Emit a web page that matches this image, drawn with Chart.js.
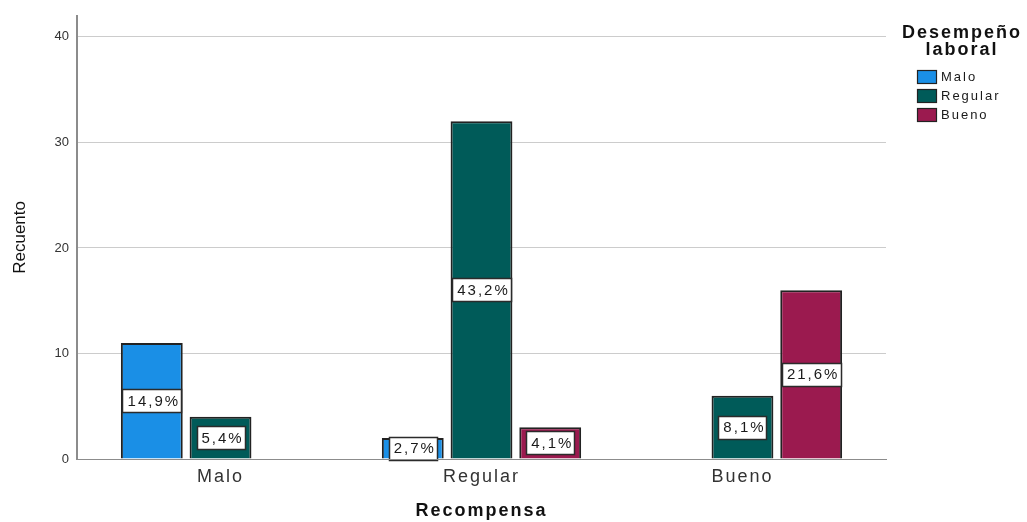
<!DOCTYPE html>
<html lang="es">
<head>
  <meta charset="UTF-8">
  <title>Recompensa y desempeño laboral</title>
  <script src="https://cdn.jsdelivr.net/npm/chart.js"></script>
  <style>
    html, body { margin: 0; padding: 0; background: #fff; }
    #wrap { width: 1027px; height: 522px; }
  </style>
</head>
<body>
  <div id="wrap"><canvas id="grafico" width="1027" height="522"></canvas></div>

  <script>
    // Datos: recuento por grupo de recompensa
    const categorias = ['Malo', 'Regular', 'Bueno'];
    const series = ['Malo', 'Regular', 'Bueno'];
    const recuentoMalo = [11, 2, null];
    const recuentoRegular = [4, 32, 6];
    const recuentoBueno = [null, 3, 16];
    const porcentajeMalo = ['14,9%', '2,7%', ''];
    const porcentajeRegular = ['5,4%', '43,2%', '8,1%'];
    const porcentajeBueno = ['', '4,1%', '21,6%'];
    const ticksY = [0, 10, 20, 30, 40];

    const colores = ['#1a8fe6', '#005b59', '#9b1a4f'];
    const fuente = "'Liberation Sans', Arial, sans-serif";
    const espaciado = '2px';

    const valores = [recuentoMalo, recuentoRegular, recuentoBueno];
    const etiquetas = [porcentajeMalo, porcentajeRegular, porcentajeBueno];

    // El eje Y se dibuja sin espaciado entre letras
    const sinEspaciado = {
      id: 'sinEspaciado',
      beforeDraw(chart) { chart.ctx.letterSpacing = '0px'; }
    };

    // Etiquetas de porcentaje en el centro de cada barra
    const etiquetasBarras = {
      id: 'etiquetasBarras',
      afterDatasetsDraw(chart) {
        const ctx = chart.ctx;
        ctx.letterSpacing = espaciado;
        ctx.save();
        ctx.font = '15px ' + fuente;
        ctx.textAlign = 'center';
        ctx.textBaseline = 'middle';
        chart.data.datasets.forEach((ds, i) => {
          chart.getDatasetMeta(i).data.forEach((bar, j) => {
            const txt = etiquetas[i][j];
            if (!txt || ds.data[j].y == null) return;
            const cy = (bar.y + bar.base) / 2;
            const w = Math.round(ctx.measureText(txt).width + 6);
            const h = 23;
            const x0 = Math.round(bar.x - w / 2);
            const y0 = Math.round(cy - h / 2);
            ctx.fillStyle = '#fff';
            ctx.fillRect(x0, y0, w, h);
            ctx.strokeStyle = '#2b2b2b';
            ctx.lineWidth = 1.5;
            ctx.strokeRect(x0 + 0.5, y0 + 0.5, w, h);
            ctx.fillStyle = '#1a1a1a';
            ctx.fillText(txt, bar.x + 2, cy + 1);
          });
        });
        ctx.restore();
      }
    };

    // Leyenda a la derecha con título en dos líneas
    const leyenda = {
      id: 'leyenda',
      afterDraw(chart) {
        const ctx = chart.ctx;
        ctx.save();
        ctx.letterSpacing = espaciado;
        ctx.fillStyle = '#111';
        ctx.font = 'bold 18px ' + fuente;
        ctx.textAlign = 'center';
        ctx.textBaseline = 'middle';
        ctx.fillText('Desempeño', 962, 33);
        ctx.fillText('laboral', 962, 50);
        ctx.font = '13px ' + fuente;
        ctx.textAlign = 'left';
        chart.data.datasets.forEach((ds, i) => {
          const y = 77 + i * 19;
          ctx.fillStyle = ds.backgroundColor;
          ctx.fillRect(917, y - 7, 20, 14);
          ctx.strokeStyle = '#222';
          ctx.lineWidth = 1.2;
          ctx.strokeRect(917.5, y - 6.5, 19, 13);
          ctx.fillStyle = '#1a1a1a';
          ctx.fillText(ds.label, 941, y);
        });
        ctx.restore();
      }
    };

    const ctx = document.getElementById('grafico').getContext('2d');
    new Chart(ctx, {
      type: 'bar',
      data: {
        datasets: series.map((nombre, i) => ({
          label: nombre,
          data: valores[i].map((v, j) => ({ x: j, y: v })),
          backgroundColor: colores[i],
          borderColor: '#222',
          borderWidth: 2,
          categoryPercentage: 0.79,
          barPercentage: 0.9
        }))
      },
      options: {
        responsive: false,
        animation: false,
        layout: { padding: { top: 15, right: 141, left: 0, bottom: 0 } },
        plugins: {
          legend: { display: false },
          tooltip: { enabled: false }
        },
        scales: {
          x: {
            type: 'linear',
            offset: false,
            min: -0.55,
            max: 2.55,
            afterBuildTicks: s => { s.ticks = categorias.map((c, i) => ({ value: i })); },
            afterFit: s => { s.height = 63; },
            grid: { display: false, drawTicks: false, z: 1 },
            border: { display: true, color: '#8c8c8c', width: 1, z: 1 },
            ticks: {
              callback: v => categorias[v],
              font: { family: fuente, size: 18 },
              color: '#333',
              padding: 7,
              maxRotation: 0,
              z: 1
            },
            title: {
              display: true,
              text: 'Recompensa',
              font: { family: fuente, size: 18, weight: 'bold' },
              color: '#111',
              padding: { top: 10, bottom: 0 }
            }
          },
          y: {
            min: 0,
            max: 42,
            afterBuildTicks: s => { s.ticks = ticksY.map(v => ({ value: v })); },
            afterFit: s => { s.width = 77; },
            grid: { color: '#cccccc', drawTicks: false },
            border: { display: true, color: '#8c8c8c', width: 2 },
            ticks: {
              font: { family: fuente, size: 13 },
              color: '#333',
              padding: 8
            },
            title: {
              display: true,
              text: 'Recuento',
              font: { family: fuente, size: 17 },
              color: '#111',
              padding: { top: 10, bottom: 0 }
            }
          }
        }
      },
      plugins: [sinEspaciado, etiquetasBarras, leyenda]
    });
  </script>
</body>
</html>
